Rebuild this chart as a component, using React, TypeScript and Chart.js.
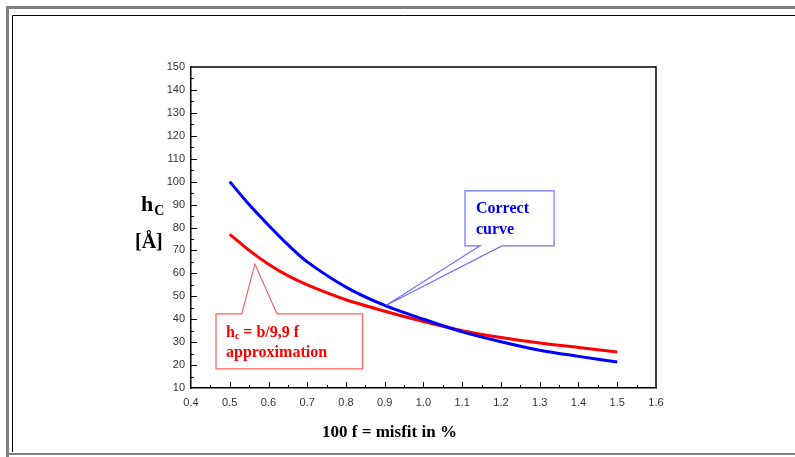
import React, { useEffect, useRef } from "react";
import { Chart, registerables } from "chart.js";

Chart.register(...registerables);

// ---- data ----
const misfit = [0.5, 0.55, 0.6, 0.65, 0.7, 0.8, 0.9, 1.0, 1.1, 1.2, 1.3, 1.4, 1.5];
const correctCurve = [100, 90, 81, 72.5, 65, 54, 46, 40, 34.5, 30.2, 26.5, 23.8, 21.3];
const approxCurve = [77, 70, 64, 59, 55, 48.5, 43.5, 39, 35, 32, 29.6, 27.7, 25.7];
const xTickValues = [0.4, 0.5, 0.6, 0.7, 0.8, 0.9, 1.0, 1.1, 1.2, 1.3, 1.4, 1.5, 1.6];
const yTickValues = [10, 20, 30, 40, 50, 60, 70, 80, 90, 100, 110, 120, 130, 140, 150];

const xTitle = "100 f = misfit in %";
const correctLabel = ["Correct", "curve"];
const approxLabel = ["approximation"];

const SERIF = "'Liberation Serif', 'DejaVu Serif', serif";
const SANS = "'Liberation Sans', Arial, sans-serif";

// annotation geometry in data units
const blueBox = { x1: 1.107, x2: 1.337, y1: 96, y2: 72, ga: 1.146, gb: 1.202, ax: 0.903, ay: 46 };
const redBox = { x1: 0.4645, x2: 0.843, y1: 42.3, y2: 18.3, ga: 0.531, gb: 0.622, ax: 0.565, ay: 64.1 };

const decorPlugin = {
  id: "decor",
  beforeDraw(chart: any) {
    const ctx = chart.ctx;
    const W = chart.width;
    const H = chart.height;
    ctx.save();
    ctx.fillStyle = "#ffffff";
    ctx.fillRect(0, 0, W, H);
    // gray outer frame
    ctx.fillStyle = "#808080";
    ctx.fillRect(6, 6, W - 6, 3);
    ctx.fillRect(6, 6, 3, H - 6);
    ctx.fillRect(6, H - 4, W - 6, 2);
    // black inner frame
    ctx.strokeStyle = "#000000";
    ctx.lineWidth = 1;
    ctx.beginPath();
    ctx.moveTo(12.5, H - 5);
    ctx.lineTo(12.5, 15.5);
    ctx.lineTo(W, 15.5);
    ctx.stroke();
    ctx.restore();
  },
  afterDraw(chart: any) {
    const ctx = chart.ctx;
    const xs = chart.scales.x;
    const ys = chart.scales.y;
    const { left, right, top, bottom } = chart.chartArea;
    ctx.save();
    // top & right border
    ctx.strokeStyle = "#000";
    ctx.lineWidth = 1.5;
    ctx.beginPath();
    ctx.moveTo(left, top);
    ctx.lineTo(right, top);
    ctx.lineTo(right, bottom);
    ctx.stroke();
    // inside ticks
    ctx.lineWidth = 1;
    ctx.strokeStyle = "#000";
    ctx.beginPath();
    for (let i = 0; i < xTickValues.length; i++) {
      const v = xTickValues[i];
      const px = Math.round(xs.getPixelForValue(v)) + 0.5;
      if (i > 0 && i < xTickValues.length - 1) {
        ctx.moveTo(px, bottom);
        ctx.lineTo(px, bottom - 6);
      }
      if (i < xTickValues.length - 1) {
        const m = Math.round(xs.getPixelForValue((v + xTickValues[i + 1]) / 2)) + 0.5;
        ctx.moveTo(m, bottom);
        ctx.lineTo(m, bottom - 3);
      }
    }
    for (let i = 0; i < yTickValues.length; i++) {
      const v = yTickValues[i];
      const py = Math.round(ys.getPixelForValue(v)) + 0.5;
      if (i > 0 && i < yTickValues.length - 1) {
        ctx.moveTo(left, py);
        ctx.lineTo(left + 6, py);
      }
      if (i < yTickValues.length - 1) {
        const m = Math.round(ys.getPixelForValue((v + yTickValues[i + 1]) / 2)) + 0.5;
        ctx.moveTo(left, m);
        ctx.lineTo(left + 3, m);
      }
    }
    ctx.stroke();

    // callouts
    const drawCallout = (b: any, color: string, pointerBottom: boolean) => {
      const x1 = xs.getPixelForValue(b.x1);
      const x2 = xs.getPixelForValue(b.x2);
      const y1 = ys.getPixelForValue(b.y1);
      const y2 = ys.getPixelForValue(b.y2);
      const ga = xs.getPixelForValue(b.ga);
      const gb = xs.getPixelForValue(b.gb);
      const ax = xs.getPixelForValue(b.ax);
      const ay = ys.getPixelForValue(b.ay);
      ctx.beginPath();
      if (pointerBottom) {
        ctx.moveTo(ga, y2);
        ctx.lineTo(ax, ay);
        ctx.lineTo(gb, y2);
        ctx.lineTo(x2, y2);
        ctx.lineTo(x2, y1);
        ctx.lineTo(x1, y1);
        ctx.lineTo(x1, y2);
      } else {
        ctx.moveTo(ga, y1);
        ctx.lineTo(ax, ay);
        ctx.lineTo(gb, y1);
        ctx.lineTo(x2, y1);
        ctx.lineTo(x2, y2);
        ctx.lineTo(x1, y2);
        ctx.lineTo(x1, y1);
      }
      ctx.closePath();
      ctx.fillStyle = "#ffffff";
      ctx.fill();
      ctx.lineWidth = 1.2;
      ctx.strokeStyle = color;
      ctx.stroke();
      return { x1, y1 };
    };

    const bb = drawCallout(blueBox, "#6f6fff", true);
    ctx.fillStyle = "#0000ee";
    ctx.font = `bold 16px ${SERIF}`;
    ctx.textBaseline = "alphabetic";
    ctx.textAlign = "left";
    ctx.fillText(correctLabel[0], bb.x1 + 11, bb.y1 + 22);
    ctx.fillText(correctLabel[1], bb.x1 + 11, bb.y1 + 43);

    const rb = drawCallout(redBox, "#ff6060", false);
    ctx.fillStyle = "#ff0000";
    ctx.font = `bold 16px ${SERIF}`;
    let tx = rb.x1 + 10;
    const base1 = rb.y1 + 23;
    ctx.fillText("h", tx, base1);
    tx += ctx.measureText("h").width;
    ctx.font = `bold 10px ${SERIF}`;
    ctx.fillText("c", tx, base1 + 2);
    tx += ctx.measureText("c").width;
    ctx.font = `bold 16px ${SERIF}`;
    ctx.fillText(" = b/9,9 f", tx, base1);
    ctx.fillText(approxLabel[0], rb.x1 + 10, rb.y1 + 43);

    // axis titles
    ctx.fillStyle = "#000";
    ctx.font = `bold 22px ${SERIF}`;
    ctx.fillText("h", left - 50, top + 144);
    const hw = ctx.measureText("h").width;
    ctx.font = `bold 14px ${SERIF}`;
    ctx.fillText("C", left - 50 + hw + 1, top + 148);
    ctx.font = `bold 20px ${SERIF}`;
    ctx.fillText("[Å]", left - 56, top + 181);

    ctx.font = `bold 17px ${SERIF}`;
    ctx.textAlign = "center";
    ctx.fillText(xTitle, (left + right) / 2 - 34, bottom + 49);
    ctx.restore();
  },
};

export default function App() {
  const ref = useRef<HTMLCanvasElement>(null);
  useEffect(() => {
    if (!ref.current) return;
    const chart = new Chart(ref.current, {
      type: "line",
      data: {
        datasets: [
          {
            label: "Correct curve",
            data: misfit.map((x, i) => ({ x, y: correctCurve[i] })),
            borderColor: "#0000ff",
            borderWidth: 3,
            pointRadius: 0,
            tension: 0.3,
            fill: false,
          },
          {
            label: "hc = b/9,9 f approximation",
            data: misfit.map((x, i) => ({ x, y: approxCurve[i] })),
            borderColor: "#ff0000",
            borderWidth: 3,
            pointRadius: 0,
            tension: 0.3,
            fill: false,
          },
        ],
      },
      options: {
        responsive: false,
        animation: false,
        layout: { padding: { left: 0, top: 67, right: 139, bottom: 49 } },
        plugins: { legend: { display: false }, tooltip: { enabled: false } },
        scales: {
          x: {
            type: "linear",
            min: 0.4,
            max: 1.6,
            afterBuildTicks: (s: any) => {
              s.ticks = xTickValues.map((v) => ({ value: v }));
            },
            afterFit: (s: any) => {
              s.height = 20;
            },
            grid: { display: false, drawTicks: false },
            border: { display: true, color: "#000", width: 1.5 },
            ticks: {
              padding: 8,
              color: "#333",
              font: { family: SANS, size: 11 },
              maxRotation: 0,
              autoSkip: false,
              callback: (v: any) => Number(v).toFixed(1),
            },
          },
          y: {
            type: "linear",
            min: 10,
            max: 150,
            afterBuildTicks: (s: any) => {
              s.ticks = yTickValues.map((v) => ({ value: v }));
            },
            afterFit: (s: any) => {
              s.width = 191;
            },
            grid: { display: false, drawTicks: false },
            border: { display: true, color: "#000", width: 1.5 },
            ticks: {
              padding: 6,
              color: "#333",
              font: { family: SANS, size: 11 },
              autoSkip: false,
              callback: (v: any) => String(v),
            },
          },
        },
      },
      plugins: [decorPlugin],
    } as any);
    return () => chart.destroy();
  }, []);
  return (
    <div style={{ position: "fixed", left: 0, top: 0, width: 795, height: 457, background: "#fff" }}>
      <canvas ref={ref} width={795} height={457} style={{ display: "block" }} />
    </div>
  );
}
